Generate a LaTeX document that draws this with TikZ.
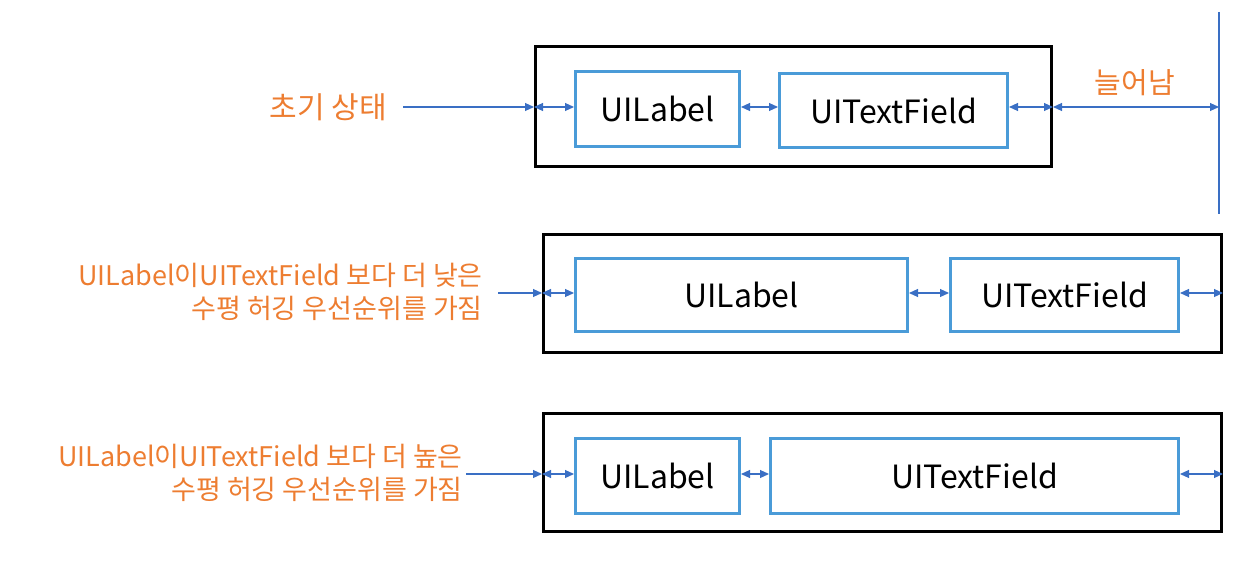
\documentclass[tikz,border=0pt]{standalone}
\usepackage{fontspec}
\setmainfont{Noto Sans CJK KR}
\usetikzlibrary{arrows.meta}
\definecolor{orng}{HTML}{ED7D31}
\definecolor{bbox}{HTML}{4A9BD8}
\definecolor{arr}{HTML}{3A6FC4}
\begin{document}
\begin{tikzpicture}[x=1pt,y=-1pt,
  outer/.style={draw=black,line width=3pt,inner sep=0pt},
  inner/.style={draw=bbox,line width=3pt,inner sep=0pt,font=\fontsize{32}{36}\selectfont},
  lbl/.style={text=orng,font=\fontsize{27}{33}\selectfont,inner sep=0pt},
  dbl/.style={arr,line width=1.1pt,{Triangle[length=9pt,width=8pt]}-{Triangle[length=9pt,width=8pt]}},
  sgl/.style={arr,line width=1.1pt,-{Triangle[length=9pt,width=8pt]}}]
\useasboundingbox (0,0) rectangle (1242,586);
% Row 1
\node[outer,minimum width=516pt,minimum height=120pt,anchor=north west] (o1) at (534,45) {};
\node[inner,minimum width=164pt,minimum height=75pt,anchor=north west] (l1) at (574,70) {UILabel};
\node[inner,minimum width=228pt,minimum height=74pt,anchor=north west] (t1) at (778,72) {UITextField};
\coordinate (v1a) at (1219,12);
\coordinate (v1b) at (1219,214);
\draw[arr,line width=1.1pt] (v1a) -- (v1b);
\node[lbl,anchor=east,font=\fontsize{30}{34}\selectfont] (s1) at (387,107) {초기 상태};
\node[lbl,font=\fontsize{29}{34}\selectfont] (g1) at (1135,83) {늘어남};
\coordinate (a1) at (403,107);
\draw[sgl] (a1) -- (o1.west |- a1);
\draw[dbl] (o1.west |- a1) -- (l1.west |- a1);
\draw[dbl] (l1.east |- a1) -- (t1.west |- a1);
\draw[dbl] (t1.east |- a1) -- (o1.east |- a1);
\draw[dbl] (o1.east |- a1) -- (v1a |- a1);
% Row 2
\node[outer,minimum width=678pt,minimum height=118pt,anchor=north west] (o2) at (542,233) {};
\node[inner,minimum width=332pt,minimum height=73pt,anchor=north west] (l2) at (574,257) {UILabel};
\node[inner,minimum width=228pt,minimum height=73pt,anchor=north west] (t2) at (949,257) {UITextField};
\node[lbl,anchor=east,align=right] (s2) at (483,292) {UILabel이UITextField 보다 더 낮은\\수평 허깅 우선순위를 가짐};
\coordinate (a2) at (498,293);
\draw[sgl] (a2) -- (o2.west |- a2);
\draw[dbl] (o2.west |- a2) -- (l2.west |- a2);
\draw[dbl] (l2.east |- a2) -- (t2.west |- a2);
\draw[dbl] (t2.east |- a2) -- (o2.east |- a2);
% Row 3
\node[outer,minimum width=678pt,minimum height=118pt,anchor=north west] (o3) at (542,412) {};
\node[inner,minimum width=164pt,minimum height=75pt,anchor=north west] (l3) at (574,437) {UILabel};
\node[inner,minimum width=408pt,minimum height=75pt,anchor=north west] (t3) at (769,437) {UITextField};
\node[lbl,anchor=east,align=right] (s3) at (463,473) {UILabel이UITextField 보다 더 높은\\수평 허깅 우선순위를 가짐};
\coordinate (a3) at (466,474);
\draw[sgl] (a3) -- (o3.west |- a3);
\draw[dbl] (o3.west |- a3) -- (l3.west |- a3);
\draw[dbl] (l3.east |- a3) -- (t3.west |- a3);
\draw[dbl] (t3.east |- a3) -- (o3.east |- a3);
\end{tikzpicture}
\end{document}
